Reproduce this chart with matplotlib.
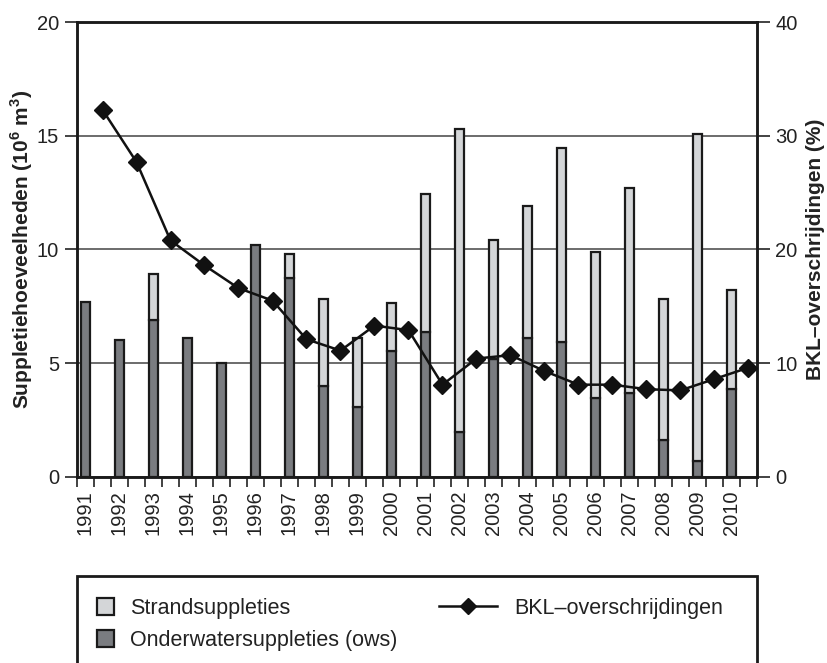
import numpy as np
import matplotlib
matplotlib.use("Agg")
import matplotlib.pyplot as plt
from matplotlib.patches import Patch, Rectangle
from matplotlib.lines import Line2D

plt.rcParams['font.family'] = ['Liberation Sans', 'DejaVu Sans']
plt.rcParams['mathtext.fontset'] = 'custom'
plt.rcParams['mathtext.rm'] = 'Liberation Sans'
plt.rcParams['mathtext.bf'] = 'Liberation Sans:bold'

years = [str(y) for y in range(1991, 2011)]
onderwater = [7.7, 6.0, 6.9, 6.1, 5.0, 10.2, 8.75, 4.0, 3.05, 5.55,
              6.35, 1.95, 5.2, 6.1, 5.95, 3.45, 3.7, 1.6, 0.7, 3.85]
strand = [0.0, 0.0, 2.0, 0.0, 0.0, 0.0, 1.05, 3.8, 3.05, 2.1,
          6.1, 13.35, 5.2, 5.8, 8.5, 6.45, 9.0, 6.2, 14.4, 4.35]
bkl = [32.3, 27.7, 20.8, 18.6, 16.6, 15.5, 12.1, 11.1, 13.3, 12.9,
       8.1, 10.4, 10.7, 9.3, 8.1, 8.1, 7.7, 7.6, 8.6, 9.6]

TXT = '#222222'
LIGHT = '#d4d6d8'
DARK = '#7a7c80'
W, H = 827, 663

fig = plt.figure(figsize=(W / 100, H / 100), dpi=100)
left, right, top, bottom = 77, 757, 22.3, 476.7
ax = fig.add_axes([left / W, 1 - bottom / H, (right - left) / W, (bottom - top) / H])

x = np.arange(len(years))
ow = np.array(onderwater)
st = np.array(strand)
ax.bar(x + 0.25, ow, width=0.29, color=DARK, edgecolor='#1a1a1a', linewidth=1.6, zorder=3)
mask = st > 0
ax.bar((x + 0.25)[mask], st[mask], bottom=ow[mask], width=0.29, color=LIGHT,
       edgecolor='#1a1a1a', linewidth=1.6, zorder=3)

ax.set_xlim(0, 20)
ax.set_ylim(0, 20)
ax.set_yticks([0, 5, 10, 15, 20])
ax.set_axisbelow(True)
ax.yaxis.grid(True, color='#444444', linewidth=1.1)
ax.set_xticks(np.arange(0, 20.01, 0.5))
ax.set_xticklabels([])
ax.set_xticks(x + 0.25, minor=True)
ax.set_xticklabels(years, minor=True, rotation=90, fontsize=14.5, color=TXT)
ax.tick_params(axis='x', which='major', direction='out', length=7, width=1.2, color='#222222')
ax.tick_params(axis='x', which='minor', length=0, pad=10)
ax.tick_params(axis='y', direction='out', length=9, width=1.2, pad=4,
               labelsize=14.5, labelcolor=TXT, color='#222222')
for s in ax.spines.values():
    s.set_linewidth(1.8)
    s.set_color('#1a1a1a')
ax.set_ylabel('Suppletiehoeveelheden (10$^\\mathbf{6}$ m$^\\mathbf{3}$)',
              fontsize=15, fontweight='bold', color=TXT)
ax.yaxis.set_label_coords((35 - left) / (right - left), 0.5)

ax2 = ax.twinx()
ax2.plot(x + 0.75, bkl, color='#111111', linewidth=1.8, marker='D',
         markersize=9, zorder=5)
ax2.set_ylim(0, 40)
ax2.set_yticks([0, 10, 20, 30, 40])
ax2.tick_params(axis='y', direction='out', length=9, width=1.2, pad=4,
                labelsize=14.5, labelcolor=TXT, color='#222222')
for s in ax2.spines.values():
    s.set_linewidth(1.8)
    s.set_color('#1a1a1a')
ax2.set_ylabel('BKL\u2013overschrijdingen (%)', fontsize=15, fontweight='bold',
               color=TXT, rotation=90)
ax2.yaxis.set_label_coords((806 - left) / (right - left), 0.5)

# legend frame (runs off the bottom of the figure)
fig.add_artist(Rectangle((left / W, -0.1), (right - left) / W, (H - 576) / H + 0.1,
                         transform=fig.transFigure, fill=False, edgecolor='#1a1a1a',
                         linewidth=2, clip_on=False))

h1 = [Patch(facecolor=LIGHT, edgecolor='#1a1a1a', linewidth=1.6),
      Patch(facecolor=DARK, edgecolor='#1a1a1a', linewidth=1.6)]
leg1 = fig.legend(h1, ['Strandsuppleties', 'Onderwatersuppleties (ows)'],
                  loc='upper left', bbox_to_anchor=(97 / W, 1 - 598 / H),
                  frameon=False, fontsize=15.5, handlelength=0.8, handleheight=0.8,
                  handletextpad=0.75, labelspacing=0.5, borderpad=0, borderaxespad=0)
for t in leg1.get_texts():
    t.set_color(TXT)
h2 = [Line2D([0], [0], color='#111111', linewidth=1.8, marker='D', markersize=8)]
leg2 = fig.legend(h2, ['BKL\u2013overschrijdingen'], loc='upper left',
                  bbox_to_anchor=(439 / W, 1 - 598 / H), frameon=False, fontsize=15.5,
                  handlelength=2.7, handletextpad=0.8, borderpad=0, borderaxespad=0)
for t in leg2.get_texts():
    t.set_color(TXT)

fig.savefig('out.png', dpi=100)
